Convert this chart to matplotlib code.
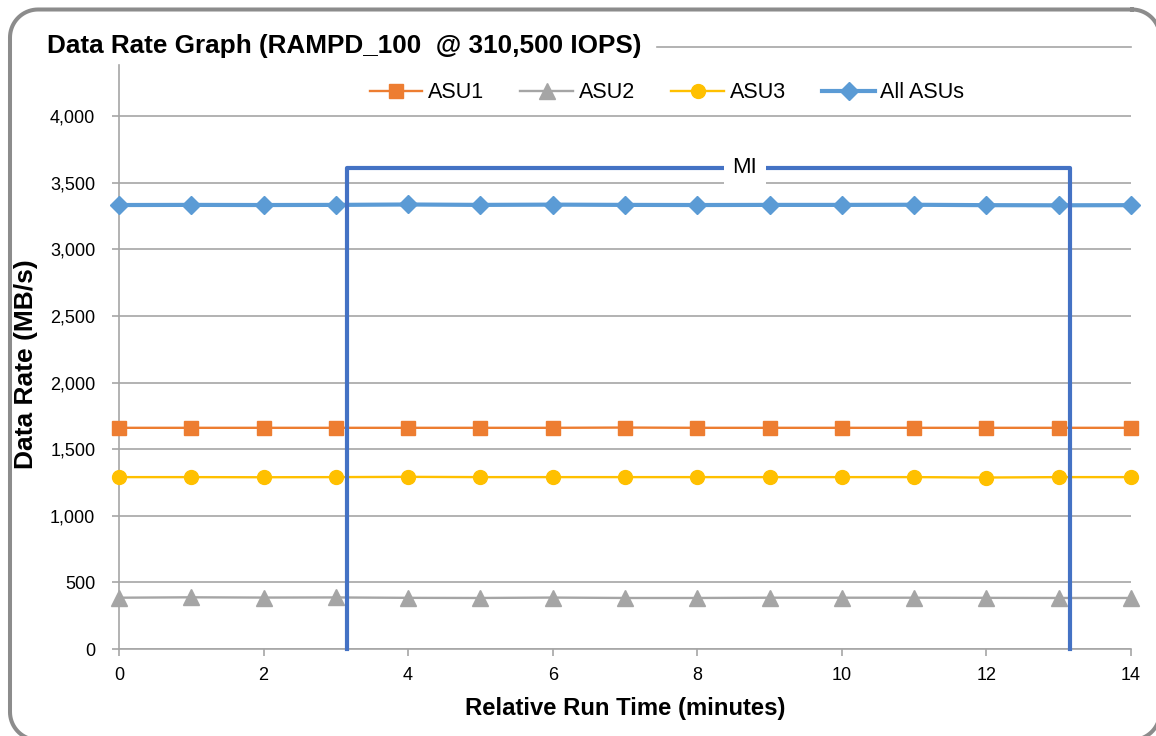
import matplotlib
matplotlib.use("Agg")
import matplotlib.pyplot as plt
import numpy as np
from matplotlib.lines import Line2D

plt.rcParams['font.family'] = ['Liberation Sans', 'DejaVu Sans']

# data
minutes = list(range(15))
asu1 = [1660, 1660, 1660, 1660, 1660, 1660, 1660, 1662, 1660, 1660, 1660, 1660, 1660, 1660, 1660]
asu2 = [385, 388, 386, 387, 384, 383, 386, 383, 383, 385, 385, 385, 384, 383, 383]
asu3 = [1290, 1290, 1289, 1290, 1292, 1290, 1290, 1290, 1290, 1290, 1290, 1290, 1287, 1290, 1290]
all_asus = [3332, 3333, 3332, 3333, 3336, 3333, 3335, 3333, 3332, 3333, 3333, 3334, 3331, 3330, 3331]
mi_start, mi_end, mi_level = 3.15, 13.15, 3610
mi_label_x = 8.66
y_ticks = [0, 500, 1000, 1500, 2000, 2500, 3000, 3500, 4000]
x_ticks = [0, 2, 4, 6, 8, 10, 12, 14]

W, H = 1156, 736
fig = plt.figure(figsize=(W / 100, H / 100), dpi=100)
ax = fig.add_axes([0.1029, 0.1182, 0.8755, 0.7935])


def rounded_rect(x0, y0, x1, y1, r, n=20):
    # outline of a rounded rectangle in pixels (y measured from the top)
    xs, ys = [], []
    corners = [(x1 - r, y0 + r, -90, 0), (x1 - r, y1 - r, 0, 90),
               (x0 + r, y1 - r, 90, 180), (x0 + r, y0 + r, 180, 270)]
    for cx, cy, a0, a1 in corners:
        t = np.radians(np.linspace(a0, a1, n))
        xs.extend(cx + r * np.cos(t))
        ys.extend(cy + r * np.sin(t))
    xs.append(xs[0])
    ys.append(ys[0])
    return np.array(xs) / W, 1 - np.array(ys) / H


fx, fy = rounded_rect(10, 9.5, 1160, 740, 28)
fig.add_artist(Line2D(fx, fy, color='#8C8C8C', linewidth=2.9, transform=fig.transFigure))

grid_col = '#A6A6A6'
ax.set_axisbelow(True)
ax.yaxis.grid(True, color=grid_col, linewidth=1.2)

ax.plot(minutes, asu1, color='#ED7D31', marker='s', markersize=10, linewidth=1.7,
        label='ASU1', clip_on=False, zorder=3)
ax.plot(minutes, asu2, color='#A5A5A5', marker='^', markersize=11, linewidth=1.7,
        label='ASU2', clip_on=False, zorder=3)
ax.plot(minutes, asu3, color='#FFC000', marker='o', markersize=10, linewidth=1.7,
        label='ASU3', clip_on=False, zorder=3)
ax.plot(minutes, all_asus, color='#5B9BD5', marker='D', markersize=9.5, linewidth=3,
        label='All ASUs', clip_on=False, zorder=3)

# measurement interval bracket
ax.plot([mi_start, mi_start, mi_end, mi_end], [0, mi_level, mi_level, 0],
        color='#4472C4', linewidth=3, zorder=4, clip_on=False)
ax.text(mi_label_x, mi_level, 'MI', fontsize=16, ha='center', va='center',
        zorder=5, bbox=dict(facecolor='white', edgecolor='none', pad=6))

ax.set_xlim(0, 14)
ax.set_ylim(0, 4383)
ax.set_xticks(x_ticks)
ax.set_yticks(y_ticks)
ax.set_yticklabels([f'{v:,}' for v in y_ticks])
ax.tick_params(axis='both', labelsize=13, color=grid_col, length=5, width=1.2)
ax.tick_params(axis='y', pad=12)
ax.tick_params(axis='x', pad=8)

for side in ['top', 'right']:
    ax.spines[side].set_visible(False)
for side in ['left', 'bottom']:
    ax.spines[side].set_color(grid_col)
    ax.spines[side].set_linewidth(1.2)

ax.set_xlabel('Relative Run Time (minutes)', fontsize=17.2, fontweight='bold')
ax.xaxis.set_label_coords(0.5, -0.082)
ax.set_ylabel('Data Rate (MB/s)', fontsize=19, fontweight='bold')
ax.yaxis.set_label_coords(-0.080, 0.488)

ax.legend(loc='upper center', bbox_to_anchor=(0.5415, 1.0), ncol=4, frameon=False, fontsize=15.5,
          handlelength=2.45, columnspacing=1.7, handletextpad=0.25, borderaxespad=0.4)

fig.text(0.0407, 0.938, 'Data Rate Graph (RAMPD_100  @ 310,500 IOPS)', fontsize=18.8,
         fontweight='bold', va='center', ha='left')
fig.add_artist(Line2D([0.568, 0.978], [0.936, 0.936], color='#A6A6A6', linewidth=1.2,
                      transform=fig.transFigure))

fig.savefig('out.png', dpi=100)
